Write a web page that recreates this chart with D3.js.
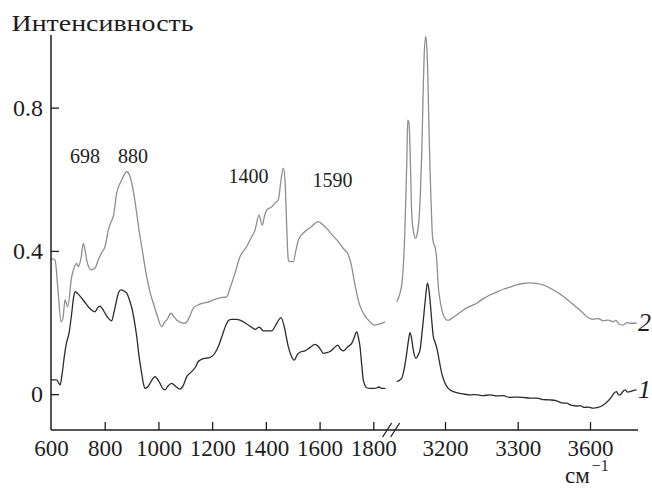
<!DOCTYPE html>
<html><head><meta charset="utf-8">
<script src="https://cdn.jsdelivr.net/npm/d3@7"></script>
</head><body style="margin:0">
<svg id="c" width="652" height="488" style="font-family:&quot;Liberation Serif&quot;"></svg>
<script>
// ---- data ----
const yTicks = [0, 0.4, 0.8];
const leftTicks = [600, 800, 1000, 1200, 1400, 1600, 1800];
const rightTicks = [3200, 3300, 3600];

const c2LeftX = [600,614.9,626,637.2,644.7,652.1,662.2,677.1,685.6,695.7,701.6,711.7,720.3,726.6,732.9,748.9,763.8,776.1,789.9,801.1,813.3,823.4,832,844.6,863.2,881.9,890.4,900.5,909,919.1,927.6,937.7,956.3,968.6,980.9,994.7,1012.2,1020.7,1030.8,1046.8,1058,1068,1084,1098.9,1113.8,1129.8,1147.3,1167,1184.6,1204.3,1229.2,1254.2,1266.5,1285.1,1303.7,1328.6,1344.7,1359.6,1374.4,1386.7,1394.9,1403.1,1421.7,1434,1446.3,1456.4,1464.9,1471.2,1476.8,1483.5,1489.9,1502.2,1512.2,1520.8,1545.7,1568.1,1595.2,1612.7,1632.5,1650,1669.7,1687.2,1707,1719.6,1728.2,1738.2,1746.8,1756.9,1769.1,1781.4,1795.2,1806.4,1825,1843.6];
const c2LeftY = [0.379,0.375,0.291,0.202,0.213,0.263,0.244,0.328,0.352,0.365,0.356,0.380,0.421,0.403,0.375,0.347,0.352,0.375,0.397,0.412,0.458,0.481,0.496,0.561,0.598,0.621,0.615,0.589,0.556,0.505,0.458,0.412,0.328,0.285,0.254,0.221,0.188,0.199,0.207,0.226,0.216,0.207,0.200,0.198,0.213,0.240,0.249,0.254,0.257,0.263,0.269,0.272,0.296,0.338,0.384,0.412,0.436,0.458,0.500,0.472,0.497,0.514,0.523,0.534,0.542,0.598,0.631,0.598,0.486,0.375,0.370,0.370,0.403,0.430,0.454,0.467,0.482,0.472,0.458,0.442,0.426,0.408,0.389,0.356,0.319,0.282,0.255,0.235,0.218,0.207,0.196,0.193,0.196,0.202];

const c1LeftX = [600,621.2,633.5,641,649.5,657.7,667,677.1,683.8,689.4,700.5,714.3,726.6,738.9,750.8,763.8,773.1,782.4,791.7,801.1,812.2,826,834.6,844.6,851.3,860.6,871.8,881.9,892.3,902.7,910.9,919.1,927.6,937.7,944.4,950,959.3,968.6,977.9,987.2,996.5,1005.8,1015.1,1024.5,1035.7,1049.4,1058,1065.4,1080.3,1091.5,1105.3,1123.9,1138,1147.3,1154.8,1173.4,1184.6,1198.4,1210.6,1222.9,1236.7,1254.2,1262.7,1272.8,1288.8,1303.7,1328.6,1344.7,1359.6,1375.6,1390.5,1406.2,1421.7,1440.4,1456.4,1468.7,1476.8,1483.5,1493.6,1505.9,1515.9,1527.1,1545.7,1564.3,1582.9,1595.2,1605.3,1613.8,1627.6,1638.8,1653.7,1667.5,1677.9,1688.3,1704,1719.6,1728.2,1738.2,1744.9,1750.5,1756.9,1762.8,1775.5,1787.7,1806.4,1821.3,1832.4,1845.5];
const c1LeftY = [0.040,0.040,0.026,0.054,0.105,0.143,0.170,0.226,0.269,0.286,0.280,0.268,0.256,0.244,0.235,0.230,0.241,0.246,0.238,0.226,0.213,0.205,0.229,0.263,0.283,0.291,0.288,0.282,0.263,0.235,0.202,0.161,0.107,0.058,0.028,0.016,0.020,0.030,0.042,0.049,0.042,0.030,0.017,0.012,0.023,0.030,0.026,0.021,0.014,0.023,0.049,0.063,0.076,0.090,0.095,0.100,0.101,0.105,0.115,0.133,0.162,0.198,0.207,0.209,0.209,0.207,0.196,0.188,0.181,0.187,0.177,0.177,0.177,0.198,0.214,0.188,0.157,0.133,0.109,0.095,0.109,0.117,0.121,0.130,0.139,0.133,0.123,0.114,0.116,0.119,0.129,0.137,0.126,0.121,0.132,0.142,0.157,0.174,0.157,0.133,0.082,0.040,0.018,0.016,0.016,0.020,0.016,0.016];

const c2RightX = [3133.6,3138.1,3140.9,3142.6,3144.6,3145.9,3147.5,3148.7,3150.1,3151.4,3152.8,3154.2,3156.7,3159.7,3162.2,3164.2,3166.3,3168,3169.7,3171.5,3173.5,3174.8,3176.2,3177.7,3179.4,3181,3182.5,3184.2,3186.2,3188.6,3190.8,3193.1,3196.3,3199.3,3202.3,3205.5,3211.4,3217.9,3225.2,3234.4,3243.6,3252.3,3261.9,3270.8,3280.2,3289.4,3298.6,3322,3351,3378,3406.2,3434,3461.8,3489.2,3517,3544.8,3572.2,3591.7,3613.7,3633.2,3655.2,3674.7,3696.6,3707.8,3720.3,3738.1,3753.5,3765.9,3793.7];
const c2RightY = [0.258,0.282,0.313,0.356,0.444,0.534,0.654,0.765,0.760,0.719,0.612,0.505,0.453,0.435,0.453,0.486,0.570,0.673,0.821,0.952,0.998,0.975,0.905,0.765,0.626,0.528,0.449,0.422,0.412,0.375,0.300,0.263,0.230,0.214,0.207,0.207,0.215,0.224,0.235,0.245,0.254,0.266,0.277,0.285,0.293,0.299,0.305,0.309,0.311,0.309,0.305,0.296,0.286,0.273,0.258,0.242,0.226,0.214,0.209,0.211,0.205,0.207,0.202,0.206,0.196,0.193,0.200,0.198,0.198];

const c1RightX = [3133.6,3140.4,3143.6,3147.3,3149.8,3151.9,3153.9,3156.4,3160.1,3162.9,3165.6,3168.4,3171.1,3173.6,3175.7,3177.6,3179.4,3181.7,3183.9,3186.7,3189.4,3192.4,3195.5,3199.3,3204.5,3209.6,3216.1,3224.8,3234.4,3242.6,3252.3,3261.9,3271.5,3279.8,3289.4,3299,3322,3351,3380,3405,3434,3459,3489.2,3504.5,3517,3544.8,3558.5,3575.1,3591.7,3613.7,3633.2,3655.2,3670.6,3690.1,3699.6,3710.8,3718.3,3724.5,3734.9,3745.3,3755.6,3766,3778.5,3793.7];
const c1RightY = [0.035,0.044,0.068,0.114,0.151,0.172,0.157,0.123,0.100,0.109,0.123,0.171,0.226,0.277,0.310,0.296,0.263,0.207,0.161,0.143,0.123,0.090,0.058,0.034,0.016,0.009,0.004,0.001,-0.002,-0.001,-0.004,-0.002,-0.005,-0.004,-0.009,-0.008,-0.009,-0.011,-0.011,-0.015,-0.016,-0.018,-0.025,-0.025,-0.030,-0.033,-0.032,-0.037,-0.036,-0.039,-0.037,-0.030,-0.022,-0.007,0.003,0.007,-0.002,-0.002,0.006,0.012,0.006,0.007,0.010,0.012];

const peakLabels = ["698", "880", "1400", "1590"];
const peakLabelX = [726.6, 905.3, 1335.4, 1648.1];
const peakLabelY = [0.646, 0.646, 0.589, 0.578];

const seriesNames = ["1", "2"];

// ---- layout ----
const svg = d3.select("#c");
const FONT = "Liberation Serif";
const ink = "#1e1e1e";
const col1 = "#2b2b2b", col2 = "#8e8e8e";

function txt(sel, size) {
  return sel.style("font-family", `"${FONT}"`).attr("font-size", size).attr("fill", ink);
}

const y = d3.scaleLinear().domain([-0.1, 1.0]).range([430, 36]);
const xL = d3.scaleLinear().domain([600, 1800]).range([51, 373.3]);
const xR = d3.scaleLinear().domain([3200, 3300, 3600]).range([445, 517.7, 590]);
const axisY = y(-0.1);
const axisEnd = 638;

// curves
function drawCurve(xs, ys, sx, color) {
  const pts = xs.map((d, i) => [d, ys[i]]);
  svg.append("path")
    .attr("d", d3.line().x(d => sx(d[0])).y(d => y(d[1])).curve(d3.curveMonotoneX)(pts))
    .attr("fill", "none").attr("stroke", color).attr("stroke-width", 1.3)
    .attr("stroke-linejoin", "round");
}
drawCurve(c2LeftX, c2LeftY, xL, col2);
drawCurve(c2RightX, c2RightY, xR, col2);
drawCurve(c1LeftX, c1LeftY, xL, col1);
drawCurve(c1RightX, c1RightY, xR, col1);

// axes
const gx = svg.append("g").attr("transform", `translate(0,${axisY})`);
gx.append("line").attr("x1", xL.range()[0]).attr("x2", axisEnd)
  .attr("stroke", ink).attr("stroke-width", 1.5);
function styleAxis(g, size) {
  g.attr("font-family", null).attr("font-size", null);
  g.select(".domain").remove();
  g.selectAll(".tick line").attr("stroke", ink).attr("stroke-width", 1.3);
  txt(g.selectAll(".tick text"), size);
}
const axL = gx.append("g").call(d3.axisBottom(xL).tickValues(leftTicks.filter(t => t > 600)).tickSizeInner(-8).tickSizeOuter(0).tickPadding(10).tickFormat(d3.format("d")));
styleAxis(axL, 23);
const ax0 = gx.append("g").call(d3.axisBottom(xL).tickValues([600]).tickSize(0).tickPadding(10).tickFormat(d3.format("d")));
styleAxis(ax0, 23);
const axR = gx.append("g").call(d3.axisBottom(xR).tickValues(rightTicks).tickSizeInner(-8).tickSizeOuter(0).tickPadding(10).tickFormat(d3.format("d")));
styleAxis(axR, 23);

// break marks
const bx = (xL(c1LeftX[c1LeftX.length - 1]) + xR(c1RightX[0])) / 2;
[-4, 4].forEach(o => {
  gx.append("line").attr("x1", bx + o - 4.5).attr("y1", 7).attr("x2", bx + o + 4.5).attr("y2", -7)
    .attr("stroke", ink).attr("stroke-width", 1.3);
});

const gy = svg.append("g").attr("transform", `translate(${xL.range()[0]},0)`);
gy.append("line").attr("y1", y.range()[0]).attr("y2", 35).attr("stroke", ink).attr("stroke-width", 1.5);
const ay = gy.append("g").call(d3.axisLeft(y).tickValues(yTicks).tickSizeInner(-8).tickSizeOuter(0).tickPadding(8).tickFormat(d => d === 0 ? "0" : d3.format(".1f")(d)));
styleAxis(ay, 24);

// titles
const title = txt(svg.append("text").attr("x", 11.5).attr("y", 30.5), 24).text("Интенсивность");
const unit = txt(svg.append("text").attr("x", 565).attr("y", 483), 23);
unit.append("tspan").text("см");
unit.append("tspan").attr("dx", 2).attr("dy", -12).attr("font-size", 16).text("−1");

// peak labels
peakLabels.forEach((t, i) => {
  txt(svg.append("text").attr("x", xL(peakLabelX[i])).attr("y", y(peakLabelY[i]))
    .attr("text-anchor", "middle"), 20).text(t);
});

// series labels
const lastY = [c1RightY[c1RightY.length - 1], c2RightY[c2RightY.length - 1]];
seriesNames.forEach((n, i) => {
  txt(svg.append("text").attr("x", 638).attr("y", y(lastY[i]) + 8), 26)
    .attr("font-style", "italic").text(n);
});

// force text layout with the chosen font, fit title width to the reference
svg.selectAll("text").each(function () { this.getComputedTextLength(); });
const tw = title.node().getComputedTextLength();
if (tw > 0 && Math.abs(tw - 182) > 4) title.attr("textLength", 182).attr("lengthAdjust", "spacingAndGlyphs");
</script>
</body></html>
